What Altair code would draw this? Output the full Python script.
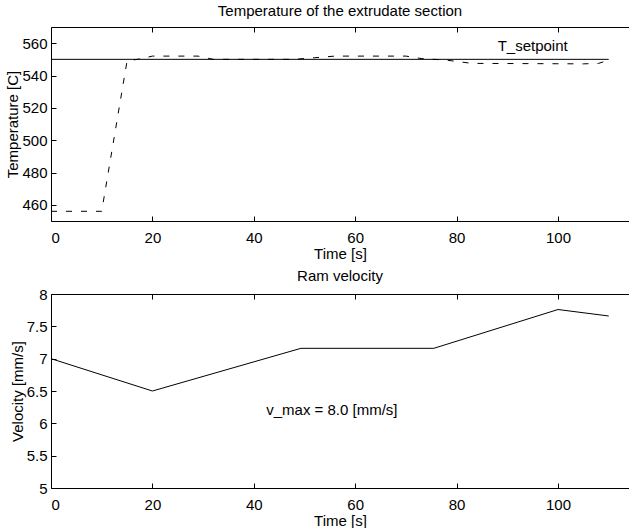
import altair as alt
import pandas as pd

# ---- data ----
time_T = [0, 10, 15, 18, 20, 29, 32, 48, 52, 56, 70, 73, 78, 83, 105, 108, 110]
temp_T = [456, 456, 549, 550.5, 552, 552, 550, 550, 551, 552, 552, 550.5, 549.5, 547.5, 547.2, 547.5, 549.5]
setpoint_time = [0, 110]
setpoint_temp = [550, 550]
time_v = [0, 20, 49.3, 75.5, 100, 110]
velocity = [7.0, 6.5, 7.16, 7.16, 7.76, 7.66]

x_ticks = [0, 20, 40, 60, 80, 100]
T_ticks = [460, 480, 500, 520, 540, 560]
v_ticks = [5, 5.5, 6, 6.5, 7, 7.5, 8]

x_domain = [0, 114]
T_domain = [450, 570]
v_domain = [5, 8]

label_T = ["T_setpoint"]
label_T_pos = ([95], [558])
label_v = ["v_max = 8.0 [mm/s]"]
label_v_pos = ([55.4], [6.2])

FONT = "Liberation Sans"
FS = 15
W, H = 578, 194
LABEL_EXPR = "'' + datum.value"


def panel(line_frames, xs_name, ys_name, y_dom, y_vals, y_title, label_df, title, title_offset):
    xs = alt.Scale(domain=x_domain, nice=False, zero=False)
    ys = alt.Scale(domain=y_dom, nice=False, zero=False)
    main_x = alt.Axis(values=x_ticks, labelExpr=LABEL_EXPR, ticks=False, domain=True, domainColor="black",
                      labelPadding=9, title="Time [s]", titlePadding=1, grid=False)
    main_y = alt.Axis(values=y_vals, labelExpr=LABEL_EXPR, ticks=False, domain=True, domainColor="black",
                      labelPadding=4, title=y_title, titlePadding=1, grid=False)
    layers = []
    df0, dash0 = line_frames[0]
    layers.append(
        alt.Chart(df0).mark_line(color="black", strokeWidth=1, **({"strokeDash": dash0} if dash0 else {}))
        .encode(x=alt.X(f"{xs_name}:Q", scale=xs, axis=main_x),
                y=alt.Y(f"{ys_name}:Q", scale=ys, axis=main_y))
    )
    for df, dash in line_frames[1:]:
        kw = {"strokeDash": dash} if dash else {}
        layers.append(
            alt.Chart(df).mark_line(color="black", strokeWidth=1, **kw)
            .encode(x=alt.X(f"{xs_name}:Q", scale=xs, axis=None),
                    y=alt.Y(f"{ys_name}:Q", scale=ys, axis=None))
        )
    layers.append(
        alt.Chart(df0).mark_line(opacity=0)
        .encode(x=alt.X(f"{xs_name}:Q", scale=xs,
                        axis=alt.Axis(orient="bottom", values=x_ticks, offset=-5, tickSize=5, tickColor="black",
                                      labels=False, domain=False, title=None, grid=False)),
                y=alt.Y(f"{ys_name}:Q", scale=ys,
                        axis=alt.Axis(orient="left", values=y_vals, offset=-5, tickSize=5, tickColor="black",
                                      labels=False, domain=False, title=None, grid=False)))
    )
    layers.append(
        alt.Chart(df0).mark_line(opacity=0)
        .encode(x=alt.X(f"{xs_name}:Q", scale=xs,
                        axis=alt.Axis(orient="top", values=x_ticks, ticks=False, labels=False, domain=True,
                                      domainColor="black", title=None, grid=False)),
                y=alt.Y(f"{ys_name}:Q", scale=ys, axis=None))
    )
    layers.append(
        alt.Chart(df0).mark_line(opacity=0)
        .encode(x=alt.X(f"{xs_name}:Q", scale=xs,
                        axis=alt.Axis(orient="top", values=x_ticks, offset=-5, tickSize=5, tickColor="black",
                                      labels=False, domain=False, title=None, grid=False)),
                y=alt.Y(f"{ys_name}:Q", scale=ys, axis=None))
    )
    layers.append(
        alt.Chart(label_df).mark_text(font=FONT, fontSize=FS, color="black", align="center", baseline="middle")
        .encode(x=alt.X("lx:Q", scale=xs, axis=None),
                y=alt.Y("ly:Q", scale=ys, axis=None),
                text="txt:N")
    )
    return (
        alt.layer(*layers)
        .resolve_axis(x="independent", y="independent")
        .properties(width=W, height=H,
                    title=alt.TitleParams(title, font=FONT, fontSize=FS, fontWeight="normal",
                                          color="black", offset=8))
        if title_offset is None else
        alt.layer(*layers)
        .resolve_axis(x="independent", y="independent")
        .properties(width=W, height=H,
                    title=alt.TitleParams(title, font=FONT, fontSize=FS, fontWeight="normal",
                                          color="black", offset=title_offset))
    )


df_T = pd.DataFrame({"t": time_T, "T": temp_T})
df_set = pd.DataFrame({"t": setpoint_time, "T": setpoint_temp})
df_v = pd.DataFrame({"t": time_v, "v": velocity})
lab_T = pd.DataFrame({"lx": label_T_pos[0], "ly": label_T_pos[1], "txt": label_T})
lab_v = pd.DataFrame({"lx": label_v_pos[0], "ly": label_v_pos[1], "txt": label_v})

top = panel([(df_set, None), (df_T, [6, 9])], "t", "T", T_domain, T_ticks, "Temperature [C]",
            lab_T, "Temperature of the extrudate section", 8)
bottom = panel([(df_v, None)], "t", "v", v_domain, v_ticks, "Velocity [mm/s]",
               lab_v, "Ram velocity", 3)

chart = (
    alt.vconcat(top, bottom, spacing=8)
    .properties(padding={"left": 5, "top": 3, "right": 0, "bottom": 0}, background="white")
    .configure_view(stroke=None)
    .configure_axis(labelFont=FONT, titleFont=FONT, labelFontSize=FS, titleFontSize=FS,
                    labelColor="black", titleColor="black", titleFontWeight="normal",
                    domainWidth=1, tickWidth=1)
)

chart.save("out.html", embed_options={"renderer": "svg", "actions": False})
